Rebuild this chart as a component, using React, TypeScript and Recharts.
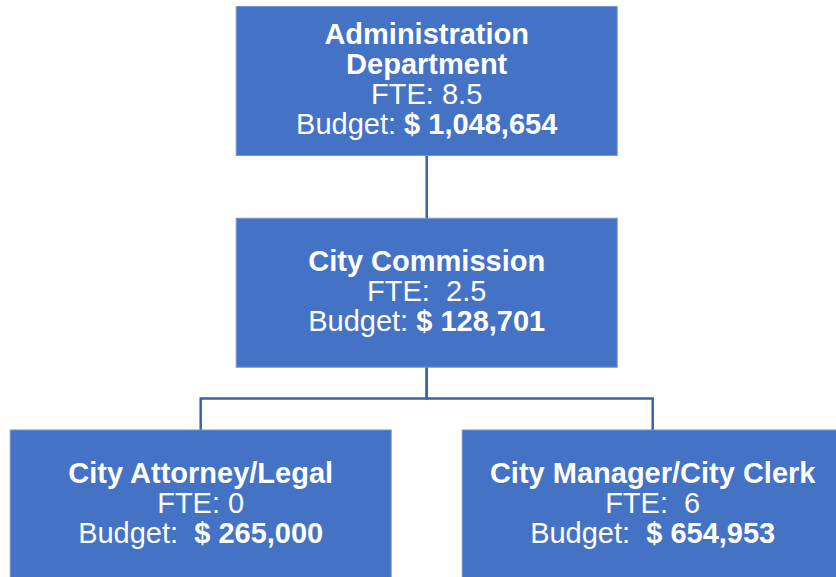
import { Scatter, ScatterChart, XAxis, YAxis } from 'recharts';

// org units, top to bottom
const titles = [['Administration', 'Department'], ['City Commission'], ['City Attorney/Legal'], ['City Manager/City Clerk']];
const fteLabels = ['FTE: 8.5', 'FTE:  2.5', 'FTE: 0', 'FTE:  6'];
const budgetPrefix = ['Budget: ', 'Budget: ', 'Budget:  ', 'Budget:  '];
const budgets = ['$ 1,048,654', '$ 128,701', '$ 265,000', '$ 654,953'];
const levels = [0, 1, 2, 2];
const cols = [0, 0, -1, 1];
const parents = [-1, 0, 1, 1];

const nodes = titles.map((t, i) => ({
  title: t,
  fte: fteLabels[i],
  prefix: budgetPrefix[i],
  budget: budgets[i],
  col: cols[i],
  level: levels[i],
}));

// elbow connectors parent -> child, through the gap between levels
const edges = parents
  .map((p, i) => {
    if (p < 0) return null;
    const mid = (levels[p] + levels[i]) / 2;
    return [
      { col: cols[p], level: levels[p] },
      { col: cols[p], level: mid },
      { col: cols[i], level: mid },
      { col: cols[i], level: levels[i] },
    ];
  })
  .filter(Boolean) as { col: number; level: number }[][];

const BOX_W = 381;
const BOX_H = 149;
const LINE_H = 30;
const FONT = '"Liberation Sans", Arial, sans-serif';

function NodeBox(props: any) {
  const { cx, cy, payload } = props;
  const lines = payload.title.length + 2;
  const y0 = cy + 8.5 - ((lines - 1) / 2) * LINE_H;
  return (
    <g>
      <rect x={cx - BOX_W / 2} y={cy - BOX_H / 2} width={BOX_W} height={BOX_H} fill="#4472C4" stroke="#7896D2" strokeWidth={1} />
      <text textAnchor="middle" fill="#fff" fontFamily={FONT} fontSize={29} style={{ whiteSpace: 'pre' }}>
        {payload.title.map((t: string, i: number) => (
          <tspan key={i} x={cx} y={y0 + i * LINE_H} fontWeight="bold">
            {t}
          </tspan>
        ))}
        <tspan x={cx} y={y0 + payload.title.length * LINE_H}>
          {payload.fte}
        </tspan>
        <tspan x={cx} y={y0 + (payload.title.length + 1) * LINE_H}>
          {payload.prefix}
          <tspan fontWeight="bold">{payload.budget}</tspan>
        </tspan>
      </text>
    </g>
  );
}

export default function App() {
  return (
    <div style={{ position: 'absolute', left: 0, top: 0, width: 836, height: 577, background: '#fff' }}>
      <ScatterChart width={836} height={577} margin={{ top: 0, right: 0, bottom: 0, left: 0 }}>
        <XAxis type="number" dataKey="col" domain={[-1.888, 1.811]} allowDataOverflow hide />
        <YAxis type="number" dataKey="level" domain={[-0.3825, 2.3425]} allowDataOverflow reversed hide />
        {edges.map((e, i) => (
          <Scatter
            key={i}
            data={e}
            line={{ stroke: '#3A63AE', strokeWidth: 2.5 }}
            lineType="joint"
            shape={() => <g />}
            isAnimationActive={false}
          />
        ))}
        <Scatter data={nodes} shape={NodeBox} isAnimationActive={false} />
      </ScatterChart>
    </div>
  );
}
